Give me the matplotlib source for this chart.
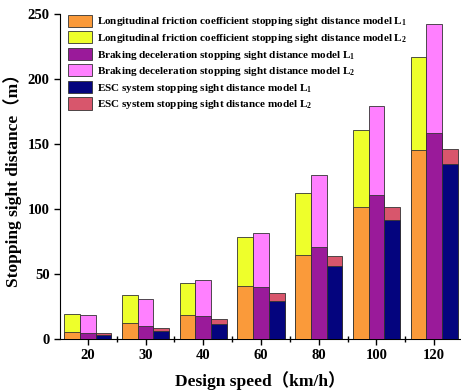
import numpy as np
import matplotlib
matplotlib.use('Agg')
import matplotlib.pyplot as plt
from matplotlib.ticker import FixedLocator

speeds = ['20', '30', '40', '60', '80', '100', '120']
friction_l1 = [5.4, 12.3, 18.2, 40.8, 64.6, 101.5, 145.8]
friction_l2 = [19.5, 33.6, 43.3, 78.4, 112.3, 160.8, 216.9]
braking_l1 = [4.6, 10.0, 17.7, 40.2, 70.5, 110.5, 158.7]
braking_l2 = [18.4, 31.0, 45.6, 81.5, 126.4, 179.5, 242.3]
esc_l1 = [2.8, 5.9, 11.8, 29.5, 55.9, 91.2, 134.3]
esc_l2 = [4.6, 8.5, 15.6, 35.4, 63.8, 101.5, 146.4]

labels = [
    'Longitudinal friction coefficient stopping sight distance model L$_1$',
    'Longitudinal friction coefficient stopping sight distance model L$_2$',
    'Braking deceleration stopping sight distance model L$_1$',
    'Braking deceleration stopping sight distance model L$_2$',
    'ESC system stopping sight distance model L$_1$',
    'ESC system stopping sight distance model L$_2$',
]
colors = ['#FA9A3A', '#EEFF2B', '#9A1A9A', '#FF80FF', '#04047E', '#D8566C']

plt.rcParams['mathtext.fontset'] = 'custom'
plt.rcParams['mathtext.rm'] = 'Liberation Serif:bold'
plt.rcParams['mathtext.it'] = 'Liberation Serif:bold'
plt.rcParams['mathtext.bf'] = 'Liberation Serif:bold'
serif = ['Liberation Serif', 'Noto Sans CJK SC']

fig = plt.figure(figsize=(4.61, 3.91), dpi=100)
ax = fig.add_axes([0.130, 0.133, 0.870, 0.831])

x = np.arange(len(speeds))
w = 0.272
edge = '#333333'
lw = 0.6
pairs = [(friction_l1, friction_l2), (braking_l1, braking_l2), (esc_l1, esc_l2)]
handles = []
for k, (l1, l2) in enumerate(pairs):
    pos = x + (k - 1) * w
    b2 = ax.bar(pos, l2, w, color=colors[2 * k + 1], edgecolor=edge, linewidth=lw, zorder=2)
    b1 = ax.bar(pos, l1, w, color=colors[2 * k], edgecolor=edge, linewidth=lw, zorder=3)
    handles += [b1, b2]

ax.set_xlim(-0.485, 6.465)
ax.set_ylim(0, 250)
ax.set_xticks(x)
ax.set_xticklabels(speeds)
ax.xaxis.set_minor_locator(FixedLocator(x[:-1] + 0.5))
ax.set_yticks(range(0, 251, 50))
ax.spines['top'].set_visible(False)
ax.spines['right'].set_visible(False)
ax.tick_params(axis='both', which='major', direction='out', length=4, width=1)
ax.tick_params(axis='x', which='minor', direction='inout', length=5, width=1)
for t in ax.get_xticklabels() + ax.get_yticklabels():
    t.set_fontfamily(serif)
    t.set_fontweight('bold')
    t.set_fontsize(10.5)

ax.set_xlabel('Design speed（km/h）', family=serif, fontweight='bold', fontsize=12.5, labelpad=6)
ax.set_ylabel('Stopping sight distance（m）', family=serif, fontweight='bold', fontsize=12.5, labelpad=4)

leg = ax.legend(handles, labels, loc='upper left', bbox_to_anchor=(0.0, 1.022), frameon=False,
                prop={'family': serif, 'weight': 'bold', 'size': 8.0},
                handlelength=2.2, handleheight=1.3, labelspacing=0.25, handletextpad=0.45,
                borderaxespad=0.3)
for h in leg.legend_handles:
    h.set_edgecolor(edge)

fig.savefig('out.png', dpi=100)
